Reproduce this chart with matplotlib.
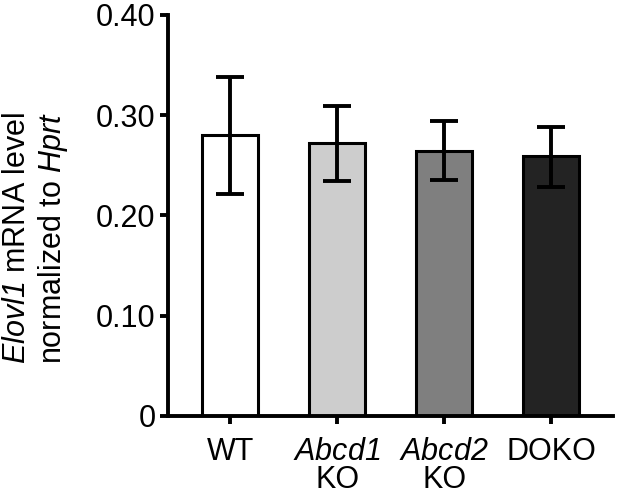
import matplotlib
matplotlib.use("Agg")
import matplotlib.pyplot as plt

plt.rcParams['font.family'] = ['Liberation Sans', 'DejaVu Sans']
plt.rcParams['mathtext.fontset'] = 'custom'
plt.rcParams['mathtext.rm'] = 'Liberation Sans'
# sf slot used for italic so digits stay italic too
plt.rcParams['mathtext.sf'] = 'Liberation Sans:italic'

# data
groups = ['WT', '$\\mathsf{Abcd1}$\nKO', '$\\mathsf{Abcd2}$\nKO', 'DOKO']
means = [0.280, 0.272, 0.264, 0.259]
err_hi = [0.338, 0.309, 0.294, 0.288]
err_lo = [0.221, 0.234, 0.235, 0.228]
colors = ['#ffffff', '#cdcdcd', '#7f7f7f', '#232323']
yticks = [0, 0.10, 0.20, 0.30, 0.40]
ytick_labels = ['0', '0.10', '0.20', '0.30', '0.40']

fig = plt.figure(figsize=(6.2, 4.97), dpi=100)
ax = fig.add_axes([0.271, 0.163, 0.718, 0.807])

x = list(range(len(groups)))
yerr = [[m - lo for m, lo in zip(means, err_lo)],
        [hi - m for m, hi in zip(means, err_hi)]]
ax.bar(x, means, width=0.52, color=colors, edgecolor='black', linewidth=2.2, zorder=2)
ax.errorbar(x, means, yerr=yerr, fmt='none', ecolor='black', elinewidth=2.8,
            capsize=10, capthick=2.8, zorder=3)

ax.set_xlim(-0.58, 3.58)
ax.set_ylim(0, 0.40)
ax.set_yticks(yticks)
ax.set_yticklabels(ytick_labels)
ax.set_xticks(x)
ax.set_xticklabels(groups, linespacing=0.9)

for s in ['top', 'right']:
    ax.spines[s].set_visible(False)
for s in ['left', 'bottom']:
    ax.spines[s].set_linewidth(2.8)
ax.tick_params(axis='both', width=2.8, length=6, labelsize=22, pad=3)
ax.tick_params(axis='x', pad=9)

ax.set_ylabel('$\\mathsf{Elovl1}$ mRNA level\nnormalized to $\\mathsf{Hprt}$',
              fontsize=22, linespacing=1.15, va='center')
ax.yaxis.set_label_coords(-0.297, 0.444)

fig.savefig('out.png', dpi=100)
